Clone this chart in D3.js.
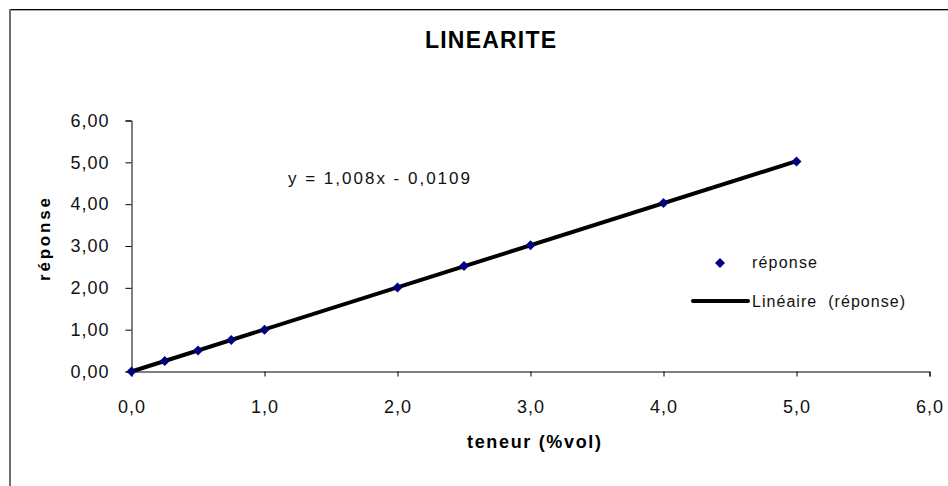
<!DOCTYPE html>
<html><head><meta charset="utf-8">
<script src="https://cdn.jsdelivr.net/npm/d3@7"></script>
<style>body{margin:0;background:#fff;} svg{display:block;font-family:"Liberation Sans",Arial,sans-serif;}</style>
</head><body>
<svg id="c" width="948" height="486"></svg>
<script>
const xValues = [0, 0.25, 0.5, 0.75, 1.0, 2.0, 2.5, 3.0, 4.0, 5.0];
const yValues = [0.00, 0.25, 0.50, 0.75, 1.00, 2.01, 2.52, 3.02, 4.03, 5.02];
const slope = 1.008, intercept = -0.0109;
const xTicks = [0,1,2,3,4,5,6];
const yTicks = [0,1,2,3,4,5,6];
const title = "LINEARITE";
const xLabel = "teneur (%vol)";
const yLabel = "réponse";
const equation = "y = 1,008x - 0,0109";
const legendLabels = ["réponse", "Linéaire  (réponse)"];

const svg = d3.select("#c");
// outer frame
svg.append("line").attr("x1",9).attr("x2",948).attr("y1",9.5).attr("y2",9.5).attr("stroke","#000").attr("stroke-width",1);
svg.append("line").attr("x1",11).attr("x2",948).attr("y1",10.5).attr("y2",10.5).attr("stroke","#aaa").attr("stroke-width",1);
svg.append("line").attr("x1",10).attr("x2",10).attr("y1",9).attr("y2",486).attr("stroke","#6e6e6e").attr("stroke-width",2);

const x = d3.scaleLinear().domain([0,6]).range([131.5,929.5]);
const y = d3.scaleLinear().domain([0,6]).range([371.5,120.5]);
const fmt = d3.formatLocale({decimal:",",thousands:" ",grouping:[3],currency:["","€"]});

const xAxis = svg.append("g").attr("transform","translate(0,371.5)")
  .call(d3.axisBottom(x).tickValues(xTicks).tickSize(5).tickPadding(24).tickFormat(fmt.format(".1f")));
const yAxis = svg.append("g").attr("transform","translate(131.5,0)")
  .call(d3.axisLeft(y).tickValues(yTicks).tickSize(6).tickPadding(16).tickFormat(fmt.format(".2f")));
[xAxis,yAxis].forEach(a=>{
  a.select(".domain").attr("stroke","#000").attr("stroke-width",1);
  a.selectAll(".tick line").attr("stroke","#000");
  a.selectAll("text").attr("font-family","Liberation Sans, Arial, sans-serif").attr("font-size",18)
    .attr("letter-spacing","1px").attr("fill","#111");
});

// trend line
svg.append("line")
  .attr("x1",x(0)).attr("y1",y(0)).attr("x2",x(5)).attr("y2",y(slope*5+intercept))
  .attr("stroke","#000").attr("stroke-width",4);

// points
const diamond = d3.symbol().type(d3.symbolSquare).size(50);
svg.append("g").selectAll("path").data(xValues).join("path")
  .attr("d",diamond)
  .attr("transform",(d,i)=>`translate(${x(d)},${y(yValues[i])}) rotate(45)`)
  .attr("fill","#000080");

// title
svg.append("text").attr("x",425).attr("y",48)
  .attr("font-size",23).attr("font-weight","bold").attr("textLength",131).attr("lengthAdjust","spacing").text(title);
// axis labels
svg.append("text").attr("x",467).attr("y",448)
  .attr("font-size",18).attr("font-weight","bold").attr("textLength",134).attr("lengthAdjust","spacing").text(xLabel);
svg.append("text").attr("transform","translate(50,281) rotate(-90)")
  .attr("font-size",17).attr("font-weight","bold").attr("textLength",83).attr("lengthAdjust","spacing").text(yLabel);
// equation
svg.append("text").attr("x",288).attr("y",184).attr("font-size",17).attr("fill","#111")
  .attr("textLength",182).attr("lengthAdjust","spacing").text(equation);

// legend
svg.append("path").attr("d",diamond).attr("transform","translate(720,263) rotate(45)").attr("fill","#000080");
svg.append("text").attr("x",752).attr("y",268).attr("font-size",16).attr("fill","#111")
  .attr("textLength",65).attr("lengthAdjust","spacing").text(legendLabels[0]);
svg.append("line").attr("x1",693).attr("x2",748).attr("y1",301).attr("y2",301).attr("stroke","#000").attr("stroke-width",4).attr("stroke-linecap","round");
svg.append("text").attr("x",752).attr("y",307).attr("font-size",16).attr("fill","#111").style("white-space","pre")
  .attr("textLength",153).attr("lengthAdjust","spacing").text(legendLabels[1]);
</script>
</body></html>
